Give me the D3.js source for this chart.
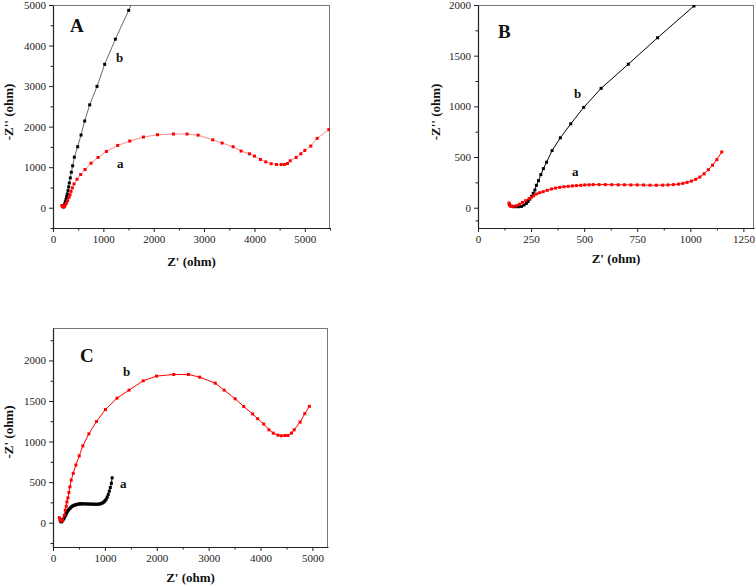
<!DOCTYPE html>
<html><head><meta charset="utf-8">
<script src="https://cdn.jsdelivr.net/npm/d3@7"></script>
<style>
html,body{margin:0;padding:0;background:#fff;}
svg{display:block;}
text{font-family:"Liberation Serif","Times New Roman",serif;}
</style></head>
<body><svg id="chart" width="756" height="587"></svg>
<script>
// ---------- DATA ----------
// Panel A, curve a (red): [Z', -Z'']
const panelA_a = [[178,55],[186,35],[196,24],[211,25],[225,35],[239,57],[265,107],[291,174],[318,256],[338,322],[358,404],[384,488],[418,587],[477,702],[549,818],[636,942],[756,1099],[895,1240],[1060,1388],[1285,1537],[1524,1644],[1796,1743],[2075,1800],[2391,1818],[2662,1818],[2881,1790],[3172,1675],[3358,1595],[3576,1504],[3735,1397],[3901,1331],[4000,1273],[4119,1190],[4225,1130],[4331,1085],[4437,1066],[4530,1066],[4596,1068],[4656,1091],[4709,1157],[4828,1240],[4921,1331],[5000,1413],[5119,1521],[5245,1711],[5477,1926]];
// Panel A, curve b (black)
const panelA_b = [[195,40],[205,22],[218,25],[231,92],[245,149],[258,206],[271,273],[284,339],[298,421],[311,513],[324,612],[344,736],[364,875],[390,1034],[424,1247],[490,1505],[557,1793],[629,2140],[728,2537],[874,2992],[1026,3537],[1238,4157],[1503,4868],[1770,5580]];
// Panel B, curve a (red)
const panelB_a = [[146,46],[150,25],[155,13],[165,10],[180,20],[195,35],[210,52],[225,70],[240,88],[252,104],[262,118],[275,136],[290,148],[307,158],[326,172],[346,185],[365,194],[385,201],[405,207],[425,211],[445,215],[464,218],[484,221],[503,225],[523,226],[543,228],[570,228],[600,228],[630,227],[660,226],[690,226],[720,225],[750,225],[780,224],[810,222],[840,222],[870,223],[895,225],[920,228],[945,233],[965,240],[985,250],[1005,263],[1025,280],[1045,303],[1065,335],[1085,375],[1105,420],[1125,475],[1148,550]];
// Panel B, curve b (black)
const panelB_b = [[148,30],[160,15],[175,10],[190,10],[205,13],[217,27],[228,43],[236,62],[244,86],[252,112],[260,142],[268,175],[275,221],[285,267],[296,327],[308,386],[323,449],[349,564],[388,690],[437,828],[498,990],[580,1178],[708,1416],[846,1677],[1017,1990]];
// Panel C, curve a (black)
const panelC_a = [[140,40],[146,25],[152,13],[162,10],[178,20],[195,35],[210,52],[225,70],[240,88],[252,104],[262,118],[275,136],[290,150],[307,162],[326,176],[346,190],[365,200],[385,208],[405,214],[425,218],[445,222],[464,225],[484,228],[503,230],[523,231],[543,232],[570,232],[600,232],[630,231],[660,230],[690,230],[720,229],[750,229],[780,228],[810,227],[840,227],[870,228],[895,230],[920,234],[945,240],[965,248],[985,258],[1005,272],[1025,290],[1045,315],[1065,348],[1085,388],[1105,433],[1125,485],[1140,553]];
// Panel C, curve b (red)
const panelC_b = [[121,62],[135,35],[152,20],[180,28],[217,91],[236,153],[255,202],[268,256],[288,305],[307,372],[326,442],[351,525],[390,608],[441,711],[505,823],[575,947],[691,1095],[838,1247],[1010,1395],[1234,1535],[1464,1634],[1739,1749],[1995,1807],[2327,1827],[2609,1827],[2826,1794],[3127,1720],[3299,1634],[3510,1527],[3676,1432],[3848,1340],[3944,1282],[4059,1216],[4162,1145],[4245,1104],[4335,1079],[4399,1071],[4469,1075],[4527,1075],[4596,1104],[4648,1145],[4763,1240],[4853,1344],[4941,1434]];

// axis domains and ticks
const xDomA = [0,5500], yDomA = [-500,5000];
const xTicksA = [0,1000,2000,3000,4000,5000], yTicksA = [0,1000,2000,3000,4000,5000];
const xMinorA = [500,1500,2500,3500,4500,5500], yMinorA = [-500,500,1500,2500,3500,4500];
const xDomB = [0,1300], yDomB = [-200,2000];
const xTicksB = [0,250,500,750,1000,1250], yTicksB = [0,500,1000,1500,2000];
const xMinorB = [125,375,625,875,1125], yMinorB = [-125,250,750,1250,1750];
const xDomC = [0,5300], yDomC = [-300,2400];
const xTicksC = [0,1000,2000,3000,4000,5000], yTicksC = [0,500,1000,1500,2000];
const xMinorC = [500,1500,2500,3500,4500], yMinorC = [-250,250,750,1250,1750,2250];

const xTitle = "Z' (ohm)";
const yTitleAB = "-Z'' (ohm)";
const yTitleC = "-Z' (ohm)";

// ---------- DRAW ----------
const svg = d3.select("#chart");

function panel(cfg){
  const g = svg.append("g");
  const x = d3.scaleLinear().domain(cfg.xDom).range([cfg.l, cfg.r]);
  const y = d3.scaleLinear().domain(cfg.yDom).range([cfg.b, cfg.t]);
  const id = "clip"+cfg.name;
  svg.append("defs").append("clipPath").attr("id",id)
    .append("rect").attr("x",cfg.l).attr("y",cfg.t).attr("width",cfg.r-cfg.l).attr("height",cfg.b-cfg.t);

  // frame top/right
  g.append("line").attr("x1",cfg.l).attr("x2",cfg.r).attr("y1",cfg.t+0.5).attr("y2",cfg.t+0.5).attr("stroke","#777").attr("stroke-width",1);
  g.append("line").attr("x1",cfg.r-0.5).attr("x2",cfg.r-0.5).attr("y1",cfg.t).attr("y2",cfg.b).attr("stroke","#777").attr("stroke-width",1);

  const style = sel => { sel.select(".domain").attr("stroke","#222").attr("stroke-width",1.2);
    sel.selectAll(".tick line").attr("stroke","#222").attr("stroke-width",1);
    sel.selectAll("text").attr("font-size",11).attr("fill","#222").attr("font-family","Liberation Serif, serif"); };

  const xa = g.append("g").attr("transform",`translate(0,${cfg.b})`)
    .call(d3.axisBottom(x).tickValues(cfg.xTicks).tickSize(4).tickPadding(3).tickSizeOuter(0).tickFormat(d3.format("d")));
  style(xa);
  const xm = g.append("g").attr("transform",`translate(0,${cfg.b})`)
    .call(d3.axisBottom(x).tickValues(cfg.xMinor).tickSize(2.5).tickSizeOuter(0).tickFormat(""));
  style(xm); xm.select(".domain").remove();
  const ya = g.append("g").attr("transform",`translate(${cfg.l},0)`)
    .call(d3.axisLeft(y).tickValues(cfg.yTicks).tickSize(4).tickPadding(3).tickSizeOuter(0).tickFormat(d3.format("d")));
  style(ya);
  const ym = g.append("g").attr("transform",`translate(${cfg.l},0)`)
    .call(d3.axisLeft(y).tickValues(cfg.yMinor).tickSize(2.5).tickSizeOuter(0).tickFormat(""));
  style(ym); ym.select(".domain").remove();

  const plot = g.append("g").attr("clip-path",`url(#${id})`);
  const line = d3.line().x(d=>x(d[0])).y(d=>y(d[1]));
  cfg.series.forEach(s=>{
    plot.append("path").datum(s.data).attr("d",line).attr("fill","none")
      .attr("stroke",s.line).attr("stroke-width",s.lw||0.9);
    plot.selectAll(null).data(s.data).enter().append("rect")
      .attr("x",d=>x(d[0])-1.5).attr("y",d=>y(d[1])-1.5)
      .attr("width",3).attr("height",3).attr("fill",s.marker);
  });

  // titles
  g.append("text").attr("x",(cfg.l+cfg.r)/2).attr("y",cfg.xtY).attr("text-anchor","middle")
    .attr("font-size",13).attr("font-weight","bold").attr("fill","#111").text(cfg.xTitle);
  g.append("text").attr("transform",`translate(${cfg.ytX},${cfg.ytY}) rotate(-90)`).attr("text-anchor","middle")
    .attr("font-size",13).attr("font-weight","bold").attr("fill","#111").text(cfg.yTitle);
  // panel letter
  g.append("text").attr("x",cfg.letter[0]).attr("y",cfg.letter[1]).attr("font-size",19).attr("font-weight","bold").attr("fill","#111").text(cfg.name);
  cfg.labels.forEach(lb=>{
    g.append("text").attr("x",lb[0]).attr("y",lb[1]).attr("font-size",13).attr("font-weight","bold").attr("fill","#111").text(lb[2]);
  });
}

panel({name:"A", l:53, r:330, t:5, b:228, xDom:xDomA, yDom:yDomA, xTicks:xTicksA, yTicks:yTicksA, xMinor:xMinorA, yMinor:yMinorA,
  series:[{data:panelA_b, line:"#444", marker:"#000", lw:0.8},{data:panelA_a, line:"#ff6a6a", marker:"#ff0000", lw:0.8}],
  xTitle:xTitle, yTitle:yTitleAB, xtY:266, ytX:13, ytY:112, letter:[70,32], labels:[[116,62,"b"],[117,168,"a"]]});

panel({name:"B", l:478, r:754, t:5, b:228, xDom:xDomB, yDom:yDomB, xTicks:xTicksB, yTicks:yTicksB, xMinor:xMinorB, yMinor:yMinorB,
  series:[{data:panelB_b, line:"#000", marker:"#000", lw:1},{data:panelB_a, line:"#ff0000", marker:"#ff0000", lw:1}],
  xTitle:xTitle, yTitle:yTitleAB, xtY:263, ytX:440, ytY:112, letter:[498,38], labels:[[574,98,"b"],[572,176,"a"]]});

panel({name:"C", l:53, r:328, t:328, b:547, xDom:xDomC, yDom:yDomC, xTicks:xTicksC, yTicks:yTicksC, xMinor:xMinorC, yMinor:yMinorC,
  series:[{data:panelC_a, line:"#000", marker:"#000", lw:1},{data:panelC_b, line:"#ff0000", marker:"#ff0000", lw:1}],
  xTitle:xTitle, yTitle:yTitleC, xtY:582, ytX:13, ytY:432, letter:[80,362], labels:[[123,376,"b"],[120,488,"a"]]});
</script></body></html>
